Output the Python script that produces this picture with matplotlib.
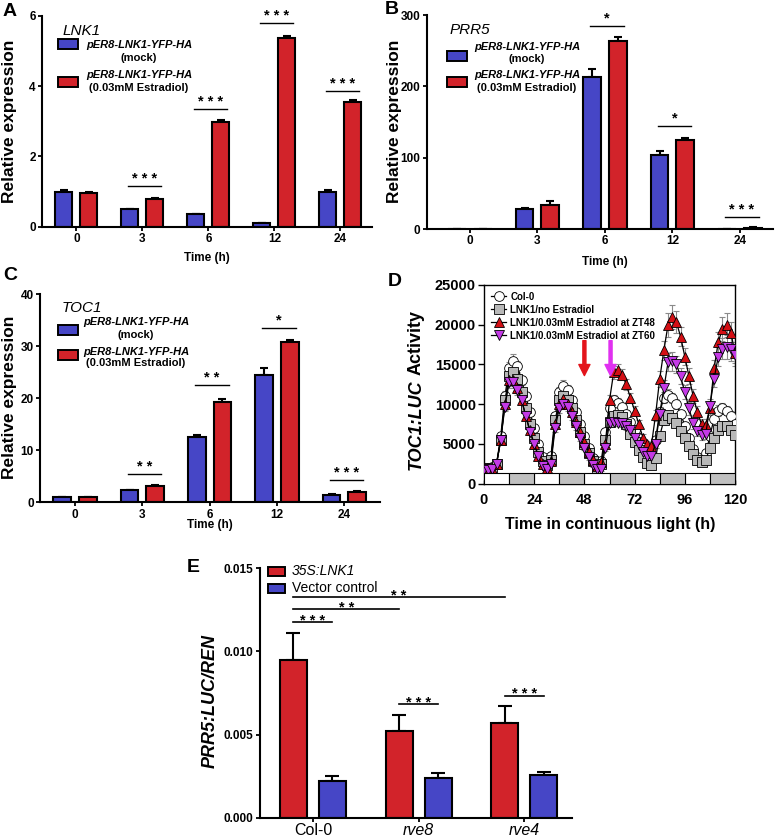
import numpy as np
import matplotlib
matplotlib.use("Agg")
import matplotlib.pyplot as plt
from matplotlib.patches import Rectangle
from matplotlib.ticker import MultipleLocator

plt.rcParams['font.family'] = ['Liberation Sans', 'DejaVu Sans']

# ---- data: panels A-C (qPCR, relative expression) ----
TIMES = ['0', '3', '6', '12', '24']
LNK1_MOCK = [1.0, 0.5, 0.35, 0.1, 1.0]
LNK1_MOCK_ERR = [0.03, 0.01, 0.01, 0.01, 0.03]
LNK1_EST = [0.97, 0.78, 2.98, 5.37, 3.55]
LNK1_EST_ERR = [0.03, 0.04, 0.05, 0.05, 0.04]

PRR5_MOCK = [0.5, 28, 213, 104, 0.5]
PRR5_MOCK_ERR = [0.2, 2, 11, 5, 0.2]
PRR5_EST = [0.5, 34, 263, 125, 2]
PRR5_EST_ERR = [0.2, 5, 6, 3, 0.5]

TOC1_MOCK = [1.0, 2.3, 12.6, 24.4, 1.5]
TOC1_MOCK_ERR = [0.1, 0.15, 0.3, 1.4, 0.1]
TOC1_EST = [1.0, 3.2, 19.2, 30.8, 2.0]
TOC1_EST_ERR = [0.1, 0.1, 0.6, 0.4, 0.1]

# significance: (group index, line height, stars)
SIG_A = [(1, 1.17, '* * *'), (2, 3.36, '* * *'), (3, 5.78, '* * *'), (4, 3.87, '* * *')]
SIG_B = [(2, 285, '*'), (3, 145, '*'), (4, 17, '* * *')]
SIG_C = [(1, 5.45, '* *'), (2, 22.6, '* *'), (3, 33.6, '*'), (4, 4.2, '* * *')]

# ---- data: panel D (TOC1:LUC, continuous light) ----
HOURS = list(range(0, 121, 2))
COL0 = [2000, 2000, 2100, 2500, 6000, 11000, 14500, 15500, 14800, 13000,
        11000, 9000, 7000, 5000, 3300, 2600, 3500, 8500, 11500, 12300,
        11800, 10500, 9000, 7500, 6000, 4500, 3200, 2300, 2800, 6500,
        9500, 10500, 10200, 9700, 8800, 7800, 6800, 5800, 4800, 4000,
        3500, 5500, 9000, 10800, 11200, 10800, 10000, 8800, 7300, 5800,
        4400, 3300, 3000, 3800, 6000, 8200, 9200, 9500, 9200, 8500,
        7500]
COL0_ERR = [200, 200, 200, 300, 500, 700, 800, 800, 700, 600,
            500, 500, 400, 400, 300, 300, 300, 500, 700, 700,
            600, 500, 500, 400, 400, 300, 300, 200, 300, 500,
            600, 600, 600, 500, 500, 400, 400, 400, 300, 300,
            300, 400, 600, 700, 700, 600, 600, 500, 500, 400,
            300, 300, 300, 400, 500, 600, 700, 700, 600, 600,
            500]
NO_EST = [2000, 1900, 2000, 2500, 5500, 10500, 13500, 14000, 13200, 11500,
          9500, 7500, 5700, 4000, 2800, 2300, 3000, 8000, 10500, 11000,
          10500, 9500, 8000, 6500, 5000, 3800, 2800, 2000, 2500, 5500,
          7800, 8500, 8700, 8400, 7500, 6300, 5200, 4200, 3300, 2600,
          2300, 3200, 6000, 8000, 8600, 8300, 7600, 6600, 5700, 4700,
          3700, 3000, 2700, 3000, 4500, 5800, 6800, 7300, 7300, 6800,
          6100]
NO_EST_ERR = [200, 200, 200, 300, 400, 600, 700, 700, 600, 500,
              500, 400, 400, 300, 300, 200, 300, 500, 600, 600,
              500, 500, 400, 400, 300, 300, 200, 200, 300, 400,
              500, 500, 500, 500, 400, 400, 400, 300, 300, 300,
              300, 400, 500, 600, 600, 500, 500, 500, 400, 400,
              300, 300, 300, 300, 400, 500, 500, 600, 500, 500,
              500]
EST_ZT48 = [2000, 1800, 1900, 2500, 5500, 10000, 13000, 13000, 12000, 10500,
            8500, 6700, 5000, 3500, 2500, 2000, 2800, 7500, 10000, 10600,
            10000, 9000, 7800, 6500, 5200, 4000, 3000, 2200, 2700, 5000,
            10500, 14000, 14300, 13700, 12500, 10800, 9200, 7500, 5800, 5000,
            4800, 8600, 13200, 16800, 20000, 21000, 20300, 18500, 16000, 13500,
            11000, 9000, 7500, 7400, 9500, 14500, 17800, 19500, 20000, 19000,
            16500]
EST_ZT48_ERR = [200, 200, 200, 300, 500, 700, 700, 700, 600, 500,
                500, 400, 400, 300, 300, 200, 300, 500, 600, 600,
                500, 500, 400, 400, 300, 300, 300, 200, 300, 500,
                700, 800, 800, 700, 700, 600, 600, 500, 400, 400,
                400, 700, 1000, 1200, 1500, 1500, 1400, 1200, 1100, 1000,
                900, 800, 700, 700, 900, 1100, 1300, 1500, 1500, 1400,
                1300]
EST_ZT60 = [1800, 1700, 1800, 2500, 5500, 9700, 12800, 12800, 11800, 10500,
            8500, 6500, 5000, 3500, 2200, 1800, 2500, 7000, 9500, 10000,
            9600, 8500, 7200, 5800, 4500, 3300, 2300, 1800, 1800, 4500,
            7600, 7800, 7700, 7600, 7300, 6700, 5800, 4900, 4000, 3500,
            3500, 5000, 8800, 12000, 15300, 15400, 15000, 13500, 11500, 9500,
            7600, 6600, 6100, 6200, 9800, 13200, 16000, 17000, 17200, 17000,
            16200]
EST_ZT60_ERR = [200, 200, 200, 300, 500, 600, 700, 700, 600, 500,
                500, 400, 400, 300, 300, 200, 300, 500, 600, 600,
                500, 500, 400, 400, 300, 300, 200, 200, 200, 400,
                500, 500, 500, 500, 500, 400, 400, 400, 300, 300,
                300, 500, 800, 1000, 1100, 1200, 1100, 1000, 900, 800,
                700, 600, 600, 600, 800, 1000, 1200, 1300, 1500, 1500,
                1400]
SUBJ_DAY = [0, 24, 48, 72, 96]
SUBJ_NIGHT = [12, 36, 60, 84, 108]
ARROW_ZT = [48, 60.5]

# ---- data: panel E (PRR5:LUC/REN) ----
GENOTYPES = ['Col-0', 'rve8', 'rve4']
LNK1_OX = [0.0095, 0.0052, 0.0057]
LNK1_OX_ERR = [0.0016, 0.0010, 0.0010]
VECTOR = [0.0022, 0.0024, 0.00255]
VECTOR_ERR = [0.0003, 0.0003, 0.0002]

BLUE = '#4646c6'
RED = '#d2232a'

W, H = 777, 839
fig = plt.figure(figsize=(W / 100, H / 100), dpi=100)


def box(left, top, right, bottom):
    return [left / W, 1 - bottom / H, (right - left) / W, (bottom - top) / H]


def ftext(x, y, s, **kw):
    return fig.text(x / W, 1 - y / H, s, **kw)


def frect(x0, y0, x1, y1, color):
    fig.add_artist(Rectangle((x0 / W, 1 - y1 / H), (x1 - x0) / W, (y1 - y0) / H,
                             transform=fig.transFigure, facecolor=color,
                             edgecolor='black', linewidth=1.4))


def style_bar_axes(ax):
    for s in ['top', 'right']:
        ax.spines[s].set_visible(False)
    for s in ['left', 'bottom']:
        ax.spines[s].set_linewidth(1.5)
    ax.tick_params(width=1.3, length=3, direction='out', pad=1.5)
    for lab in ax.get_xticklabels() + ax.get_yticklabels():
        lab.set_fontweight('bold')
        lab.set_fontsize(8.5)


def bar_panel(ax, mock, mock_err, est, est_err, ylim, ystep, xlim, sigs):
    x = np.arange(len(TIMES))
    off, w = 0.19, 0.26
    ax.bar(x - off, mock, w, color=BLUE, edgecolor='black', linewidth=1.5, zorder=2)
    ax.bar(x + off, est, w, color=RED, edgecolor='black', linewidth=1.5, zorder=2)
    ax.errorbar(x - off, mock, yerr=[np.zeros(len(x)), mock_err], fmt='none',
                ecolor='black', elinewidth=1.5, capsize=3, capthick=1.5, zorder=1)
    ax.errorbar(x + off, est, yerr=[np.zeros(len(x)), est_err], fmt='none',
                ecolor='black', elinewidth=1.5, capsize=3, capthick=1.5, zorder=1)
    ax.set_xlim(*xlim)
    ax.set_ylim(*ylim)
    ax.set_xticks(x)
    ax.set_xticklabels(TIMES)
    ax.yaxis.set_major_locator(MultipleLocator(ystep))
    for g, yv, stars in sigs:
        c = g + 0.03
        ax.plot([c - 0.25, c + 0.25], [yv, yv], color='black', lw=1, clip_on=False)
        ax.annotate(stars, xy=(c, yv), xytext=(0, 0), textcoords='offset points',
                    ha='center', va='bottom', fontsize=10.5, fontweight='bold',
                    annotation_clip=False)
    style_bar_axes(ax)


def bar_legend(gene, gx, gy, rx, ry_blue, ry_red, tx, tb1, tb2, tr1, tr2):
    ftext(gx, gy, gene, style='italic', fontsize=11, va='center', ha='left')
    frect(rx, ry_blue - 5, rx + 20, ry_blue + 5, BLUE)
    frect(rx, ry_red - 5, rx + 20, ry_red + 5, RED)
    ftext(tx, tb1, 'pER8-LNK1-YFP-HA', style='italic', fontweight='bold', fontsize=8,
          ha='center', va='center')
    ftext(tx, tb2, '(mock)', fontweight='bold', fontsize=8, ha='center', va='center')
    ftext(tx, tr1, 'pER8-LNK1-YFP-HA', style='italic', fontweight='bold', fontsize=8,
          ha='center', va='center')
    ftext(tx, tr2, '(0.03mM Estradiol)', fontweight='bold', fontsize=8,
          ha='center', va='center')


# ---------------- Panel A ----------------
axA = fig.add_axes(box(42, 15.7, 372, 226.7))
bar_panel(axA, LNK1_MOCK, LNK1_MOCK_ERR, LNK1_EST, LNK1_EST_ERR,
          (0, 6), 2, (-0.52, 4.48), SIG_A)
bar_legend('LNK1', 63, 31, 58, 44, 82, 139, 45, 58, 75, 88)
ftext(9.5, 121, 'Relative expression', rotation=90, fontsize=12.5, fontweight='bold',
      ha='center', va='center')
ftext(207, 258, 'Time (h)', fontsize=8.5, fontweight='bold', ha='center', va='center')
ftext(3, 12, 'A', fontsize=14, fontweight='bold', ha='left', va='center')

# ---------------- Panel B ----------------
axB = fig.add_axes(box(426.7, 15, 773, 229))
bar_panel(axB, PRR5_MOCK, PRR5_MOCK_ERR, PRR5_EST, PRR5_EST_ERR,
          (0, 300), 100, (-0.64, 4.49), SIG_B)
bar_legend('PRR5', 450, 30, 447, 55.5, 82, 527, 46.7, 59.3, 75, 88.3)
ftext(394.5, 121, 'Relative expression', rotation=90, fontsize=12.5, fontweight='bold',
      ha='center', va='center')
ftext(605, 262, 'Time (h)', fontsize=8.5, fontweight='bold', ha='center', va='center')
ftext(385, 10, 'B', fontsize=14, fontweight='bold', ha='left', va='center')

# ---------------- Panel C ----------------
axC = fig.add_axes(box(40, 294.3, 380, 502.3))
bar_panel(axC, TOC1_MOCK, TOC1_MOCK_ERR, TOC1_EST, TOC1_EST_ERR,
          (0, 40), 10, (-0.52, 4.53), SIG_C)
bar_legend('TOC1', 62, 308, 57.5, 330, 355.5, 136, 321.7, 335, 351.7, 363.3)
ftext(9.5, 397, 'Relative expression', rotation=90, fontsize=12.5, fontweight='bold',
      ha='center', va='center')
ftext(210, 525, 'Time (h)', fontsize=8.5, fontweight='bold', ha='center', va='center')
ftext(3, 275, 'C', fontsize=14, fontweight='bold', ha='left', va='center')

# ---------------- Panel D ----------------
axD = fig.add_axes(box(484, 285, 735, 483.7))
series = [
    (COL0, COL0_ERR, 'o', 'white', 'Col-0'),
    (NO_EST, NO_EST_ERR, 's', '#b8b8b8', 'LNK1/no Estradiol'),
    (EST_ZT48, EST_ZT48_ERR, '^', '#d40f14', 'LNK1/0.03mM Estradiol at ZT48'),
    (EST_ZT60, EST_ZT60_ERR, 'v', '#c43ae6', 'LNK1/0.03mM Estradiol at ZT60'),
]
handles = []
for vals, errs, mk, col, lab in series:
    axD.errorbar(HOURS, vals, yerr=errs, fmt='none', ecolor='#8a8a8a', elinewidth=0.8,
                 capsize=2, capthick=0.8, zorder=2)
    h, = axD.plot(HOURS, vals, color='black', lw=0.9, marker=mk, markersize=7,
                  markerfacecolor=col, markeredgecolor='black', markeredgewidth=0.6,
                  label=lab, zorder=3)
    handles.append(h)
for d in SUBJ_DAY:
    axD.add_patch(Rectangle((d, 0), 12, 1400, facecolor='white', edgecolor='black',
                            linewidth=0.8, zorder=4))
for n in SUBJ_NIGHT:
    axD.add_patch(Rectangle((n, 0), 12, 1400, facecolor='#c0c0c0', edgecolor='black',
                            linewidth=0.8, zorder=4))
for zt, col in zip(ARROW_ZT, ['#e3141b', '#e030f0']):
    axD.annotate('', xy=(zt, 13600), xytext=(zt, 18000),
                 arrowprops=dict(facecolor=col, edgecolor=col, width=2.2,
                                 headwidth=8, headlength=8), zorder=5)
axD.set_xlim(0, 120)
axD.set_ylim(0, 25000)
axD.xaxis.set_major_locator(MultipleLocator(24))
axD.xaxis.set_minor_locator(MultipleLocator(4))
axD.yaxis.set_major_locator(MultipleLocator(5000))
axD.tick_params(which='major', length=4, width=1, direction='out', pad=2,
                labelsize=10.5)
axD.tick_params(axis='x', which='both', direction='in', length=3, pad=7)
axD.tick_params(which='minor', width=0.8)
for lab in axD.get_xticklabels() + axD.get_yticklabels():
    lab.set_fontweight('bold')
for s in axD.spines.values():
    s.set_linewidth(1)
axD.legend(handles=handles, loc='upper left', frameon=False, handlelength=1.6,
           handletextpad=0.4, labelspacing=0.3, borderaxespad=0.3,
           prop={'weight': 'bold', 'size': 7})
t1 = ftext(416.5, 470, 'TOC1:LUC', rotation=90, fontsize=13, fontweight='bold',
           style='italic', ha='center', va='bottom')
fig.canvas.draw()
bb = t1.get_window_extent()
fig.text(416.5 / W, (bb.y1 + 4) / H, 'Activity', rotation=90, fontsize=13,
         fontweight='bold', ha='center', va='bottom')
ftext(610, 525, 'Time in continuous light (h)', fontsize=11.5, fontweight='bold',
      ha='center', va='center')
ftext(388, 282, 'D', fontsize=14, fontweight='bold', ha='left', va='center')

# ---------------- Panel E ----------------
axE = fig.add_axes(box(260, 568.3, 572, 817.7))
xg = np.arange(len(GENOTYPES))
off, w = 0.185, 0.255
axE.bar(xg - off, LNK1_OX, w, color=RED, edgecolor='black', linewidth=1.5, zorder=2)
axE.bar(xg + off, VECTOR, w, color=BLUE, edgecolor='black', linewidth=1.5, zorder=2)
axE.errorbar(xg - off, LNK1_OX, yerr=[np.zeros(3), LNK1_OX_ERR], fmt='none',
             ecolor='black', elinewidth=1.5, capsize=5, capthick=1.5, zorder=1)
axE.errorbar(xg + off, VECTOR, yerr=[np.zeros(3), VECTOR_ERR], fmt='none',
             ecolor='black', elinewidth=1.5, capsize=5, capthick=1.5, zorder=1)
axE.set_xlim(-0.5, 2.45)
axE.set_ylim(0, 0.015)
axE.set_xticks(xg)
axE.set_xticklabels(GENOTYPES)
axE.set_yticks([0, 0.005, 0.010, 0.015])
axE.set_yticklabels(['0.000', '0.005', '0.010', '0.015'])
style_bar_axes(axE)
axE.tick_params(axis='x', pad=0.5)
for i, lab in enumerate(axE.get_xticklabels()):
    lab.set_fontweight('normal')
    lab.set_fontsize(11.5)
    if i > 0:
        lab.set_style('italic')

sig_e = [(0 - off, 0 + off, 0.01175, '* * *'),
         (0 - off, 1 - off, 0.01255, '* *'),
         (0 - off, 2 - off, 0.01326, '* *'),
         (1 - off, 1 + off, 0.00682, '* * *'),
         (2 - off, 2 + off, 0.00734, '* * *')]
for x0, x1, yv, stars in sig_e:
    axE.plot([x0, x1], [yv, yv], color='black', lw=1.2, clip_on=False)
    axE.annotate(stars, xy=((x0 + x1) / 2, yv), xytext=(0, -4),
                 textcoords='offset points', ha='center', va='bottom',
                 fontsize=10.5, fontweight='bold', annotation_clip=False)

frect(268, 566.5, 285, 575.5, RED)
frect(268, 584, 285, 593, BLUE)
ftext(292, 571, '35S:LNK1', style='italic', fontsize=10, ha='left', va='center')
ftext(292, 588.5, 'Vector control', fontsize=10, ha='left', va='center')
ftext(210, 701, 'PRR5:LUC/REN', rotation=90, fontsize=13, fontweight='bold',
      style='italic', ha='center', va='center')
ftext(187, 567, 'E', fontsize=14, fontweight='bold', ha='left', va='center')

fig.savefig('out.png', dpi=100)
